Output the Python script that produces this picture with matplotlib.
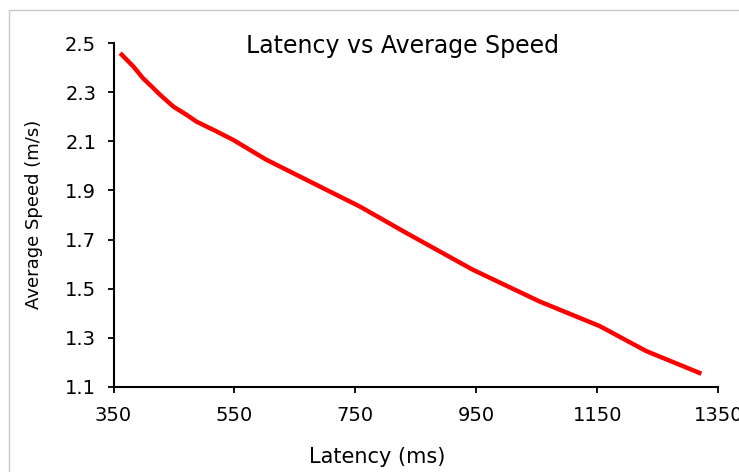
import numpy as np
import matplotlib
matplotlib.use("Agg")
import matplotlib.pyplot as plt
from matplotlib.patches import Rectangle

plt.rcParams['font.family'] = ['DejaVu Sans']

# values
latency = [361, 383, 399, 416, 427, 438, 449, 471, 487, 521, 548, 603, 658, 713,
           757, 834, 944, 1054, 1154, 1231, 1322]
speed = [2.46, 2.405, 2.357, 2.317, 2.29, 2.266, 2.242, 2.208, 2.181, 2.14, 2.106,
         2.025, 1.957, 1.889, 1.835, 1.727, 1.577, 1.448, 1.347, 1.245, 1.153]

x_ticks = [350, 550, 750, 950, 1150, 1350]
y_ticks = [1.1, 1.3, 1.5, 1.7, 1.9, 2.1, 2.3, 2.5]

fig = plt.figure(figsize=(7.39, 4.72), dpi=100)

# outer chart border (cut off at right/bottom like the screenshot)
border = Rectangle((9/739, -0.2), 2.0, 1.2 - 10/472, transform=fig.transFigure,
                   fill=False, edgecolor='#c8c8c8', linewidth=1.0)
fig.patches.append(border)

ax = fig.add_axes([113.5/739, 1 - 386.7/472, (718.3 - 113.5)/739, (386.7 - 43.3)/472])
ax.plot(latency, speed, color='#ff0000', linewidth=3.2, solid_capstyle='butt',
        solid_joinstyle='round')

ax.set_xlim(350, 1350)
ax.set_ylim(1.1, 2.5)
ax.set_xticks(x_ticks)
ax.set_yticks(y_ticks)
ax.set_yticklabels(['%.1f' % v for v in y_ticks])

for s in ['top', 'right']:
    ax.spines[s].set_visible(False)
for s in ['left', 'bottom']:
    ax.spines[s].set_linewidth(1.5)
    ax.spines[s].set_color('black')

ax.tick_params(axis='both', direction='out', length=4, width=1.3, labelsize=14, colors='black')
ax.tick_params(axis='x', pad=10)
ax.tick_params(axis='y', pad=8.5)

fig.text(402.5/739, 1 - 53/472, 'Latency vs Average Speed', ha='center', va='baseline', fontsize=17)
fig.text(377.5/739, 1 - 463/472, 'Latency (ms)', ha='center', va='baseline', fontsize=15)
fig.text(34/739, 1 - 214/472, 'Average Speed (m/s)', ha='center', va='center', fontsize=13, rotation=90)

fig.savefig('out.png', dpi=100)
